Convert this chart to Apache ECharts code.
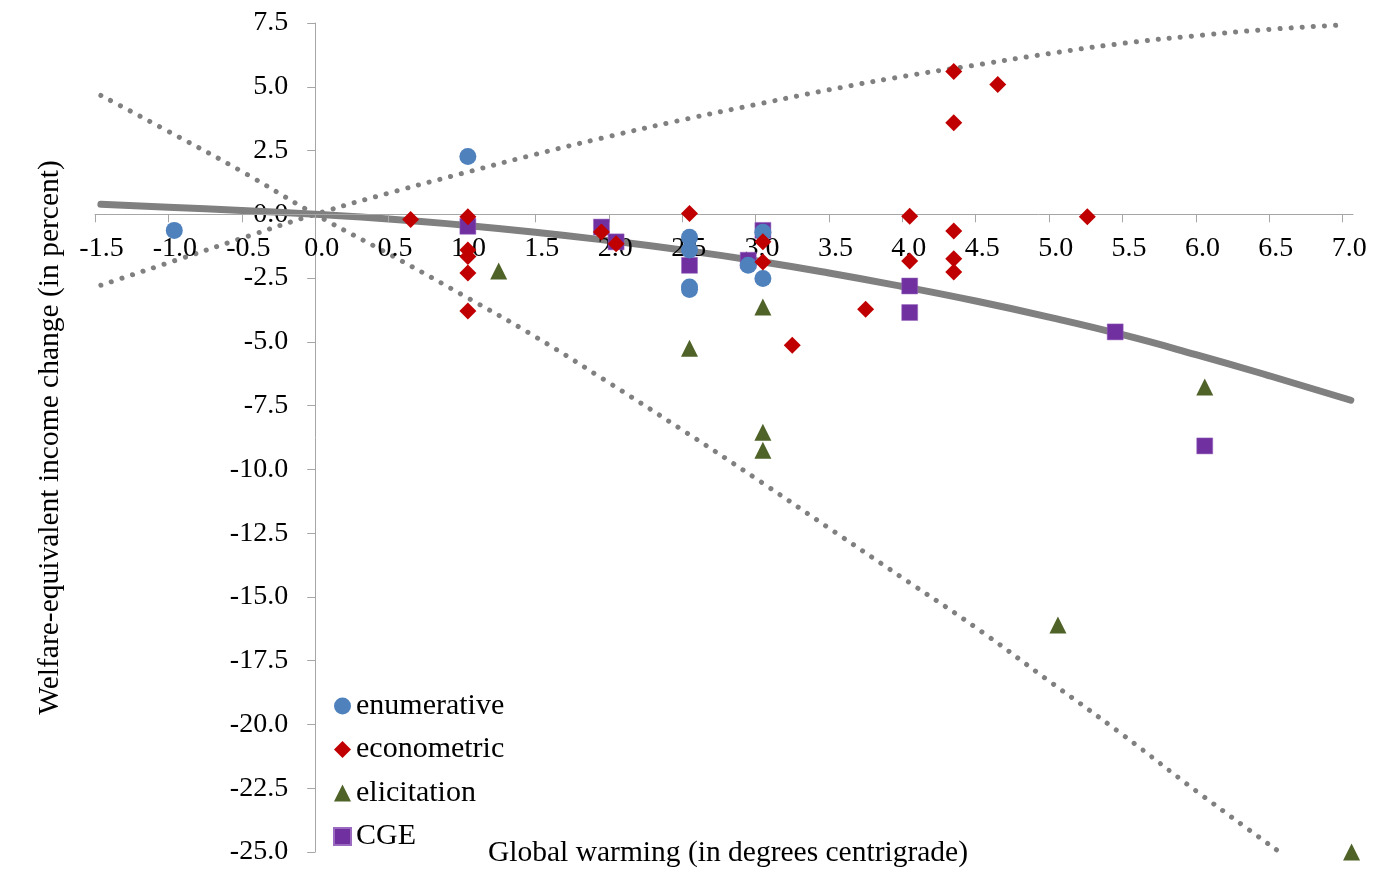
<!DOCTYPE html>
<html><head><meta charset="utf-8">
<script src="https://cdn.jsdelivr.net/npm/echarts@6/dist/echarts.min.js"></script>
<style>html,body{margin:0;padding:0;background:#fff}#c{width:1379px;height:883px}</style>
</head><body><div id="c"></div>
<script>
// ---- tick labels ----
const xTicks = [-1.5,-1.0,-0.5,0.0,0.5,1.0,1.5,2.0,2.5,3.0,3.5,4.0,4.5,5.0,5.5,6.0,6.5,7.0];
const xMin = -1.5, xMax = 7.07;
const yMin = -25, yMax = 7.5, yStep = 2.5;

// ---- scatter series (x = warming, y = welfare change) ----
const enumX = [-0.96, 1.04, 2.55, 2.55, 2.55, 2.55, 2.95, 3.05, 3.05];
const enumY = [-0.63, 2.27, -0.90, -1.40, -2.85, -2.95, -2.00, -0.70, -2.52];

const econX = [0.65, 1.04, 1.04, 1.04, 1.04, 1.04, 1.95, 2.05, 2.55, 3.05, 3.05, 3.25, 3.75, 4.05, 4.05, 4.35, 4.35, 4.35, 4.35, 4.35, 4.65, 5.26];
const econY = [-0.20, -0.10, -1.40, -1.65, -2.30, -3.79, -0.69, -1.15, 0.03, -1.08, -1.87, -5.13, -3.72, -0.08, -1.83, -0.65, -1.74, -2.26, 5.60, 3.59, 5.09, -0.10];

const elicX = [1.25, 2.55, 3.05, 3.05, 3.05, 5.06, 6.06, 7.06];
const elicY = [-2.22, -5.25, -3.63, -8.54, -9.25, -16.10, -6.77, -25.00];

const cgeX = [1.04, 1.95, 2.05, 2.55, 2.95, 3.05, 4.05, 4.05, 5.45, 6.06];
const cgeY = [-0.47, -0.50, -1.08, -2.00, -1.80, -0.63, -2.81, -3.85, -4.61, -9.08];

// ---- fitted curve and bounds ----
const fitX = [-1.46, -1.0, -0.5, 0, 0.5, 1.0, 1.5, 2.0, 2.5, 3.0, 3.5, 4.0, 4.5, 5.0, 5.5, 6.0, 6.5, 7.055];
const fitY = [0.39, 0.28, 0.15, 0, -0.18, -0.42, -0.70, -1.03, -1.40, -1.82, -2.30, -2.83, -3.40, -4.03, -4.72, -5.50, -6.33, -7.29];

const upX = [-1.46, -1.0, -0.5, 0, 0.5, 1.0, 1.5, 2.0, 2.5, 3.0, 3.5, 4.0, 4.5, 5.0, 5.5, 6.0, 6.5, 7.02];
const upY = [-2.78, -1.90, -0.94, 0, 0.83, 1.60, 2.35, 3.05, 3.70, 4.30, 4.88, 5.40, 5.85, 6.30, 6.70, 7.00, 7.25, 7.43];

const loX = [-1.46, -1.0, -0.5, 0, 0.5, 1.0, 1.5, 2.0, 2.5, 3.0, 3.5, 4.0, 4.5, 5.0, 5.5, 6.0, 6.57];
const loY = [4.66, 3.25, 1.68, 0, -1.55, -3.15, -4.80, -6.60, -8.45, -10.35, -12.30, -14.25, -16.20, -18.30, -20.40, -22.60, -25.00];

const zip = (xs, ys) => xs.map((x, i) => [x, ys[i]]);
const FONT = '"Liberation Serif", "Times New Roman", serif';
const AXIS_COLOR = '#A6A6A6';

// grid geometry
const G = {left: 95, right: 26, top: 23, bottom: 31};
const W = 1379, H = 883;
const gw = W - G.left - G.right, gh = H - G.top - G.bottom;
// move each axis (line, ticks, labels, name) onto the other axis' zero
const yAxisOffset = -((0 - xMin) / (xMax - xMin)) * gw;
const xAxisOffset = -((0 - yMin) / (yMax - yMin)) * gh;

const chart = echarts.init(document.getElementById('c'), null, {renderer: 'canvas'});
const scatterBase = {type: 'scatter', clip: false, z: 4};
chart.setOption({
  animation: false,
  backgroundColor: '#ffffff',
  grid: Object.assign({containLabel: false, outerBoundsMode: 'none'}, G),
  legend: {
    data: ['enumerative', 'econometric', 'elicitation', 'CGE'],
    orient: 'vertical', left: 333, top: 691, padding: 0,
    itemWidth: 17, itemHeight: 17, itemGap: 13.5, itemTextGap: 9,
    itemStyle: {opacity: 1},
    textStyle: {fontFamily: FONT, fontSize: 30, color: '#000', lineHeight: 30}
  },
  xAxis: {
    type: 'value', min: xMin, max: xMax, interval: 0.5, z: 3, offset: xAxisOffset,
    axisLine: {onZero: false, lineStyle: {color: AXIS_COLOR, width: 1}},
    axisTick: {show: true, length: 8, customValues: xTicks, lineStyle: {color: AXIS_COLOR}},
    axisLabel: {customValues: xTicks, formatter: v => v.toFixed(1), margin: 20,
      fontFamily: FONT, fontSize: 28, color: '#000', padding: [0, 0, 0, 13]},
    splitLine: {show: false},
    name: 'Global warming (in degrees centrigrade)', nameLocation: 'middle', nameGap: 624,
    nameTextStyle: {fontFamily: FONT, fontSize: 29.5, color: '#000', padding: [0, 0, 0, 8]}
  },
  yAxis: {
    type: 'value', min: yMin, max: yMax, interval: yStep, offset: yAxisOffset,
    axisLine: {onZero: false, lineStyle: {color: AXIS_COLOR, width: 1}},
    axisTick: {show: true, length: 8, lineStyle: {color: AXIS_COLOR}},
    axisLabel: {formatter: v => v.toFixed(1), margin: 27, fontFamily: FONT, fontSize: 28, color: '#000'},
    splitLine: {show: false},
    name: 'Welfare-equivalent income change (in percent)', nameLocation: 'middle', nameGap: 250,
    nameTextStyle: {fontFamily: FONT, fontSize: 29.5, color: '#000'}
  },
  series: [
    {type: 'line', data: zip(loX, loY), smooth: true, showSymbol: false, silent: true, z: 1,
      lineStyle: {color: '#808080', width: 5, type: [0.1, 11], cap: 'round', opacity: 1}},
    {type: 'line', data: zip(upX, upY), smooth: true, showSymbol: false, silent: true, z: 1,
      lineStyle: {color: '#808080', width: 5, type: [0.1, 11], cap: 'round', opacity: 1}},
    {type: 'line', data: zip(fitX, fitY), smooth: true, showSymbol: false, silent: true, z: 2,
      lineStyle: {color: '#808080', width: 7, cap: 'round', opacity: 1}},
    Object.assign({}, scatterBase, {name: 'CGE', symbol: 'rect', symbolSize: 16,
      itemStyle: {color: '#7030A0', borderColor: '#9A6BC0', borderWidth: 0.5, opacity: 1}, data: zip(cgeX, cgeY)}),
    Object.assign({}, scatterBase, {name: 'enumerative', symbol: 'circle', symbolSize: 17,
      itemStyle: {color: '#4F81BD', opacity: 1}, data: zip(enumX, enumY)}),
    Object.assign({}, scatterBase, {name: 'econometric', symbol: 'diamond', symbolSize: 17,
      itemStyle: {color: '#C00000', opacity: 1}, data: zip(econX, econY)}),
    Object.assign({}, scatterBase, {name: 'elicitation', symbol: 'triangle', symbolSize: 17,
      itemStyle: {color: '#4F6228', opacity: 1}, data: zip(elicX, elicY)})
  ]
});
</script>
</body></html>
